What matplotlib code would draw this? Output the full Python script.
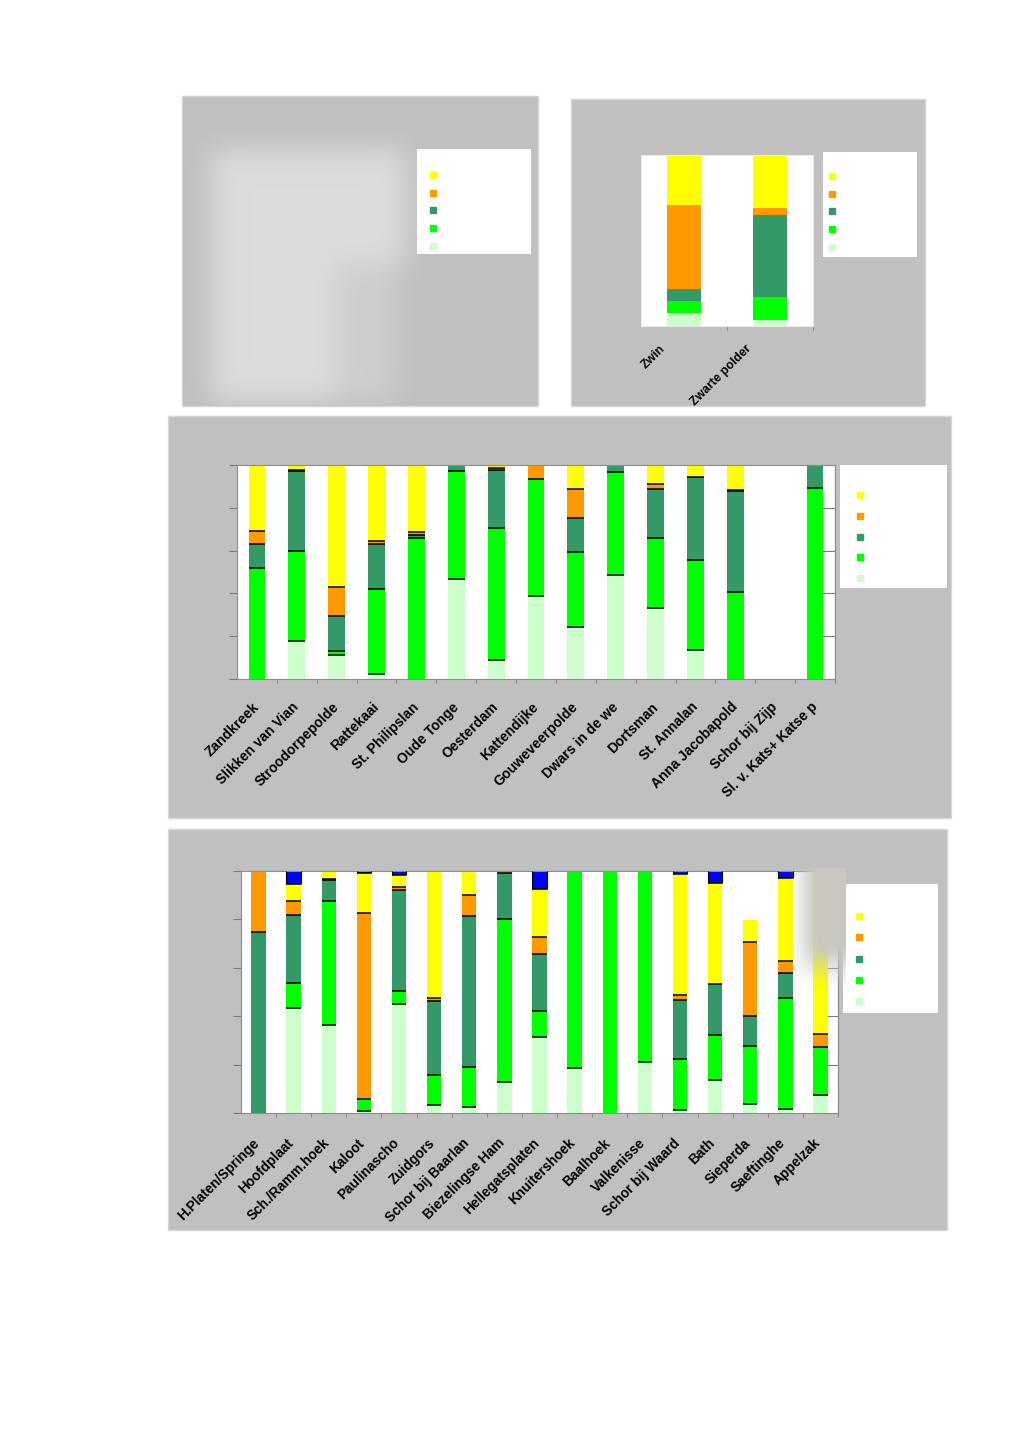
import numpy as np
import matplotlib
matplotlib.use('Agg')
import matplotlib.pyplot as plt
from matplotlib.lines import Line2D
from matplotlib.patches import Rectangle
from matplotlib.transforms import ScaledTranslation

W, H, DPI = 1024, 1448, 100
plt.rcParams['font.family'] = ['Liberation Sans', 'DejaVu Sans']

# ---------------- colours ----------------
COL_LG = '#CCFFCC'
COL_G = '#00FF00'
COL_DG = '#339966'
COL_O = '#FF9900'
COL_Y = '#FFFF00'
COL_B = '#0000FF'
PANEL = '#C0C0C0'

# ---------------- data: top-right chart ----------------
zw_labels = ['Zwin', 'Zwarte polder']
zw_lightgreen = [7.4, 3.3]
zw_green = [7.4, 13.5]
zw_darkgreen = [6.6, 48.1]
zw_orange = [49.3, 3.9]
zw_yellow = [29.3, 31.2]

# ---------------- data: middle chart ----------------
os_labels = ['Zandkreek', 'Slikken van Vian', 'Stroodorpepolde', 'Rattekaai',
             'St. Philipslan', 'Oude Tonge', 'Oesterdam', 'Kattendijke',
             'Gouweveerpolde', 'Dwars in de we', 'Dortsman', 'St. Annalan',
             'Anna Jacobapold', 'Schor bij Zijp', 'Sl. v. Kats+ Katse p']
os_lightgreen = [0, 17.6, 11.4, 2.3, 0, 46.7, 8.7, 38.9, 24.4, 48.4, 33.4, 13.5, 0, 0, 0]
os_green = [51.8, 42.0, 1.9, 39.7, 66.1, 50.5, 61.7, 54.4, 34.8, 48.5, 32.3, 42.0, 40.6, 0, 89.4]
os_darkgreen = [11.2, 37.6, 16.3, 21.0, 1.0, 2.8, 27.2, 0, 15.9, 3.1, 23.0, 38.9, 47.3, 0, 10.6]
os_orange = [6.2, 0.5, 13.2, 1.7, 1.5, 0, 0.9, 6.7, 13.7, 0, 2.2, 0, 0.5, 0, 0]
os_yellow = [30.8, 2.3, 57.2, 35.3, 31.4, 0, 1.5, 0, 11.2, 0, 9.1, 5.6, 11.6, 0, 0]

# ---------------- data: bottom chart ----------------
ws_labels = ['H.Platen/Springe', 'Hoofdplaat', 'Sch./Ramm.hoek', 'Kaloot',
             'Paulinascho', 'Zuidgors', 'Schor bij Baarlan', 'Biezelingse Ham',
             'Hellegatsplaten', 'Knuitershoek', 'Baalhoek', 'Valkenisse',
             'Schor bij Waard', 'Bath', 'Sieperda', 'Saeftinghe', 'Appelzak']
ws_lightgreen = [0, 43.2, 36.3, 0.8, 45.1, 3.4, 2.3, 12.8, 31.4, 18.8, 0, 20.9, 1.4, 13.8, 3.7, 1.8, 7.6]
ws_green = [0, 10.5, 51.3, 5.1, 5.5, 12.1, 16.8, 67.4, 10.9, 81.2, 100, 79.1, 20.9, 18.3, 24.1, 45.7, 19.5]
ws_darkgreen = [74.6, 28.2, 8.7, 0, 41.5, 30.8, 62.4, 19.1, 23.4, 0, 0, 0, 24.5, 21.2, 12.1, 10.3, 0]
ws_orange = [25.4, 5.5, 0.4, 76.6, 1.4, 1.4, 8.5, 0.7, 6.9, 0, 0, 0, 2.1, 0, 30.9, 5.1, 5.5]
ws_yellow = [0, 7.1, 3.3, 16.5, 4.8, 52.3, 10.0, 0, 20.1, 0, 0, 0, 49.9, 41.6, 8.9, 34.3, 67.4]
ws_blue = [0, 5.5, 0, 1.0, 1.7, 0, 0, 0, 7.3, 0, 0, 0, 1.2, 5.1, 0, 2.8, 0]

LEGEND_COLORS = [COL_Y, COL_O, COL_DG, COL_G, COL_LG]


def frect(x0, y0, x1, y1):
    return [x0 / W, 1 - y1 / H, (x1 - x0) / W, (y1 - y0) / H]


fig = plt.figure(figsize=(W / DPI, H / DPI), dpi=DPI)
fig.patch.set_facecolor('white')

# grey panels
for (x0, y0, x1, y1) in [(182, 96, 538, 406), (571, 99, 925, 406),
                         (168, 416, 951, 818), (168, 829, 947, 1230)]:
    fig.add_artist(Rectangle((x0 / W, 1 - y1 / H), (x1 - x0) / W, (y1 - y0) / H,
                             transform=fig.transFigure, facecolor=PANEL,
                             edgecolor='#d6d6d6', lw=1, zorder=-2))


def gauss_blur(a, sigma):
    r = int(3 * sigma)
    k = np.exp(-0.5 * (np.arange(-r, r + 1) / sigma) ** 2)
    k /= k.sum()
    a = np.pad(a, r, mode='edge')
    a = np.apply_along_axis(lambda v: np.convolve(v, k, mode='same'), 1, a)
    a = np.apply_along_axis(lambda v: np.convolve(v, k, mode='same'), 0, a)
    return a[r:-r, r:-r]


# ---- top-left panel: blurred, empty chart area
px0, py0, px1, py1 = 183, 97, 537, 405
yy, xx = np.mgrid[py0:py1, px0:px1]
m = np.zeros(yy.shape)
m[(xx >= 212) & (xx <= 405) & (yy >= 150) & (yy <= 262)] = 1.0
m[(xx >= 212) & (xx <= 335) & (yy >= 150) & (yy <= 400)] = 1.0
m[(xx > 335) & (xx <= 395) & (yy > 262) & (yy <= 400)] = 0.5
m = gauss_blur(m, 13)
bg = np.array([192, 192, 192]) / 255
light = np.array([220, 220, 220]) / 255
img = bg[None, None, :] + m[:, :, None] * (light - bg)[None, None, :]
axb = fig.add_axes(frect(px0, py0, px1, py1))
axb.imshow(img, aspect='auto', interpolation='bilinear')
axb.axis('off')


def stacked(ax, series, colors, width, lines=True):
    n = len(series[0])
    x = np.arange(n)
    bottom = np.zeros(n)
    tops = []
    for vals, c in zip(series, colors):
        v = np.asarray(vals, float)
        ax.bar(x, v, width, bottom=bottom, color=c, edgecolor='none', zorder=2)
        bottom = bottom + v
        tops.append(bottom.copy())
    if lines:
        for i in range(n):
            nz = [k for k, s in enumerate(series) if s[i] > 0]
            for k in nz[:-1]:
                ax.hlines(tops[k][i], x[i] - width / 2, x[i] + width / 2,
                          color='black', lw=1.1, zorder=3)
            if len(series) == 6 and series[-1][i] > 0:
                ax.vlines([x[i] - width / 2, x[i] + width / 2], tops[-2][i], tops[-1][i],
                          color='black', lw=0.8, zorder=3)


def cat_labels(ax, labels, dx, dy, fs):
    tr = ax.get_xaxis_transform() + ScaledTranslation(dx / DPI, -dy / DPI, fig.dpi_scale_trans)
    for i, lab in enumerate(labels):
        ax.text(i, 0, lab, transform=tr, rotation=45, ha='right', va='top',
                fontsize=fs, fontweight='bold', clip_on=False)


def setup_axes(ax, n, spine_col, yticks=True):
    ax.set_facecolor('white')
    ax.set_xlim(-0.5, n - 0.5)
    ax.set_ylim(0, 100)
    ax.set_xticks(np.arange(n) + 0.5)
    ax.set_xticklabels([])
    ax.tick_params(axis='x', length=3, width=0.8, color='#8a8a8a', direction='out')
    for s in ax.spines.values():
        s.set_color(spine_col)
        s.set_linewidth(0.8)
    if yticks:
        ax.set_yticks([0, 20, 40, 60, 80, 100])
        ax.set_yticklabels([])
        ax.tick_params(axis='y', length=6, width=0.8, color='#7a7a7a', direction='out')
        sec = ax.secondary_yaxis('right')
        sec.set_yticks([0, 20, 40, 60, 80, 100])
        sec.set_yticklabels([])
        sec.tick_params(length=10, width=0.8, color='#7a7a7a', direction='in')
        sec.spines['right'].set_color(spine_col)
    else:
        ax.set_yticks([])


def legend_box(rect_px, marker_x, marker_y0, pitch):
    x0, y0, x1, y1 = rect_px
    lax = fig.add_axes(frect(x0, y0, x1, y1))
    lax.set_facecolor('white')
    lax.set_xticks([])
    lax.set_yticks([])
    for s in lax.spines.values():
        s.set_visible(False)
    fs = 8
    em = fs * DPI / 72.0
    row_h = 9.9
    ls = (pitch - row_h) / em
    hl = 0.8
    ax_px = marker_x - hl * em / 2
    ay_px = marker_y0 - row_h / 2
    handles = [Line2D([], [], ls='none', marker='s', markersize=5,
                      markerfacecolor=c, markeredgecolor=c) for c in LEGEND_COLORS]
    lax.legend(handles, [''] * len(handles), loc='upper left',
               bbox_to_anchor=((ax_px - x0) / (x1 - x0), 1 - (ay_px - y0) / (y1 - y0)),
               bbox_transform=lax.transAxes, frameon=False, fontsize=fs,
               handlelength=hl, handletextpad=0.2, borderpad=0, borderaxespad=0,
               labelspacing=ls)
    return lax


# ---- top-left legend
legend_box((417, 149, 531, 254), 433, 176, 17.5)

# ---- top-right chart
ax2 = fig.add_axes(frect(641, 155, 813, 326))
setup_axes(ax2, 2, '#e8e8e8', yticks=False)
stacked(ax2, [zw_lightgreen, zw_green, zw_darkgreen, zw_orange, zw_yellow],
        [COL_LG, COL_G, COL_DG, COL_O, COL_Y], 0.39, lines=False)
cat_labels(ax2, zw_labels, -16, 17, 8.8)
legend_box((823, 152, 917, 257), 832, 177, 17.5)

# ---- middle chart
ax3 = fig.add_axes(frect(237, 465, 835, 679))
setup_axes(ax3, 15, '#8c8c8c')
stacked(ax3, [os_lightgreen, os_green, os_darkgreen, os_orange, os_yellow],
        [COL_LG, COL_G, COL_DG, COL_O, COL_Y], 0.42)
cat_labels(ax3, os_labels, 5, 21, 10)
legend_box((840, 465, 947, 588), 860, 496, 20.6)

# ---- bottom chart
ax4 = fig.add_axes(frect(241, 871, 838, 1113))
setup_axes(ax4, 17, '#8c8c8c')
stacked(ax4, [ws_lightgreen, ws_green, ws_darkgreen, ws_orange, ws_yellow, ws_blue],
        [COL_LG, COL_G, COL_DG, COL_O, COL_Y, COL_B], 0.41)
cat_labels(ax4, ws_labels, 3, 23, 9.8)
legend_box((843, 884, 938, 1013), 859, 917, 21.2)

# ---- blurred grey smudge over the upper right of the bottom chart
ox0, oy0, ox1, oy1 = 786, 868, 846, 990
yy, xx = np.mgrid[oy0:oy1, ox0:ox1]
alpha = np.clip((xx - 791) / 24.0, 0, 1) * np.clip((986 - yy) / 40.0, 0, 1)
alpha = gauss_blur(alpha, 3)
rgba = np.zeros(yy.shape + (4,))
rgba[..., 0] = 201 / 255
rgba[..., 1] = 199 / 255
rgba[..., 2] = 192 / 255
rgba[..., 3] = alpha
axo = fig.add_axes(frect(ox0, oy0, ox1, oy1), zorder=5)
axo.imshow(rgba, aspect='auto', interpolation='bilinear')
axo.axis('off')

fig.savefig('out.png', dpi=DPI, facecolor='white')
